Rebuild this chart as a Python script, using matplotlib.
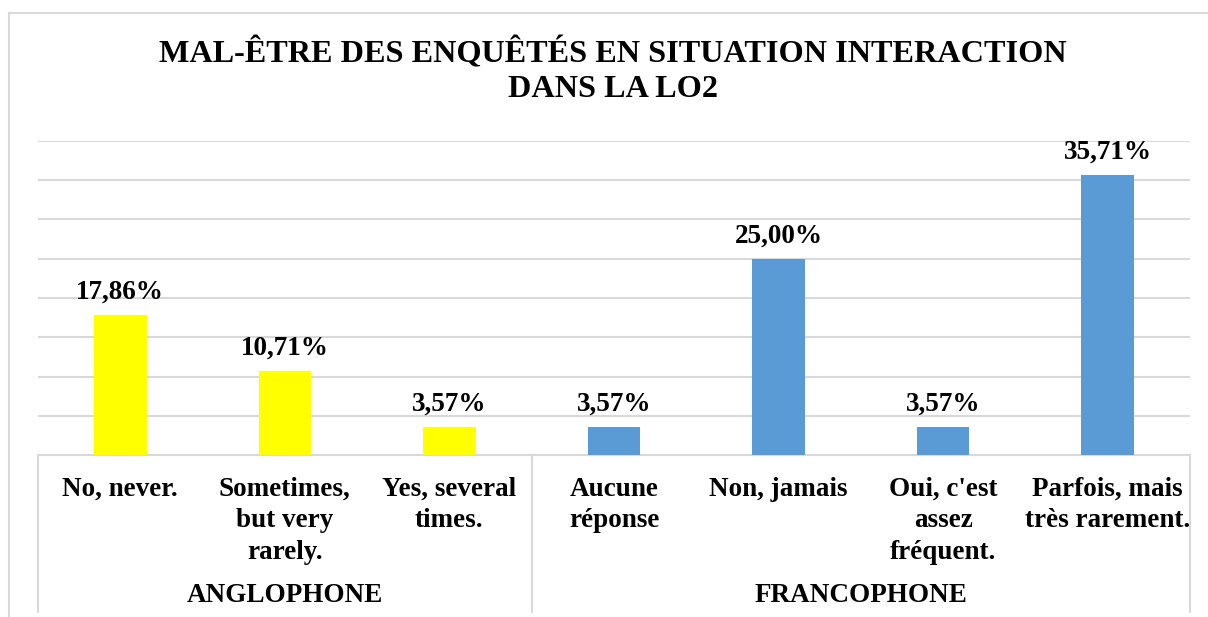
import matplotlib.pyplot as plt
from matplotlib.lines import Line2D
import matplotlib.transforms as mtransforms

plt.rcParams['font.family'] = ['Liberation Serif', 'DejaVu Serif']
plt.rcParams['font.weight'] = 'bold'

categories = ['No, never.', 'Sometimes,\nbut very\nrarely.', 'Yes, several\ntimes.',
              'Aucune\nréponse', 'Non, jamais', "Oui, c'est\nassez\nfréquent.",
              'Parfois, mais\ntrès rarement.']
values = [17.86, 10.71, 3.57, 3.57, 25.00, 3.57, 35.71]
labels = ['17,86%', '10,71%', '3,57%', '3,57%', '25,00%', '3,57%', '35,71%']
groups = ['ANGLOPHONE', 'FRANCOPHONE']
group_sizes = [3, 4]
colors = ['#FFFF00'] * 3 + ['#5B9BD5'] * 4

W, H = 1208, 617
fig = plt.figure(figsize=(W / 100, H / 100), dpi=100)
ax = fig.add_axes([38 / W, 1 - 455 / H, (1190 - 38) / W, (455 - 141) / H])

grid_c = '#d9d9d9'
x = list(range(len(values)))
ax.bar(x, values, width=0.32, color=colors, zorder=3)
ax.set_xlim(-0.5, len(values) - 0.5)
ax.set_ylim(0, 40)
ax.set_yticks(range(5, 41, 5))
ax.yaxis.grid(True, color=grid_c, linewidth=1.5)
ax.set_axisbelow(True)
ax.tick_params(left=False, bottom=False, labelleft=False, labelbottom=False)
for s in ['left', 'right', 'top']:
    ax.spines[s].set_visible(False)
ax.spines['bottom'].set_color(grid_c)
ax.spines['bottom'].set_linewidth(1.5)

for xi, v, t in zip(x, values, labels):
    ax.annotate(t, (xi, v), xytext=(0, 7.5), textcoords='offset points',
                ha='center', va='bottom', fontsize=19.5, fontweight='bold')

# category labels under the axis
trans = mtransforms.blended_transform_factory(ax.transData, fig.transFigure)
for xi, c in zip(x, categories):
    ax.text(xi, 1 - 477 / H, c, transform=trans, ha='center', va='top',
            fontsize=19.5, fontweight='bold', linespacing=1.34)

# group labels and separators
start = 0
seps = [-0.5]
for g, n in zip(groups, group_sizes):
    ax.text(start + (n - 1) / 2, 1 - 595 / H, g, transform=trans, ha='center',
            va='center', fontsize=19.5, fontweight='bold')
    start += n
    seps.append(start - 0.5)
for sx in seps:
    ax.add_line(Line2D([sx, sx], [1 - 455 / H, 1 - 612 / H], transform=trans,
                       color=grid_c, linewidth=1.5, clip_on=False))

fig.text(613 / W, 1 - 71 / H, 'MAL-ÊTRE DES ENQUÊTÉS EN SITUATION INTERACTION\nDANS LA LO2',
         ha='center', va='center', fontsize=23.2, fontweight='bold', linespacing=1.26)

# outer chart border (left and top edges only are visible)
fig.add_artist(Line2D([9 / W, 9 / W], [0, 1 - 13 / H], transform=fig.transFigure,
                      color=grid_c, linewidth=1.5))
fig.add_artist(Line2D([9 / W, 1], [1 - 13 / H, 1 - 13 / H], transform=fig.transFigure,
                      color=grid_c, linewidth=1.5))

fig.savefig('out.png', dpi=100, facecolor='white')
